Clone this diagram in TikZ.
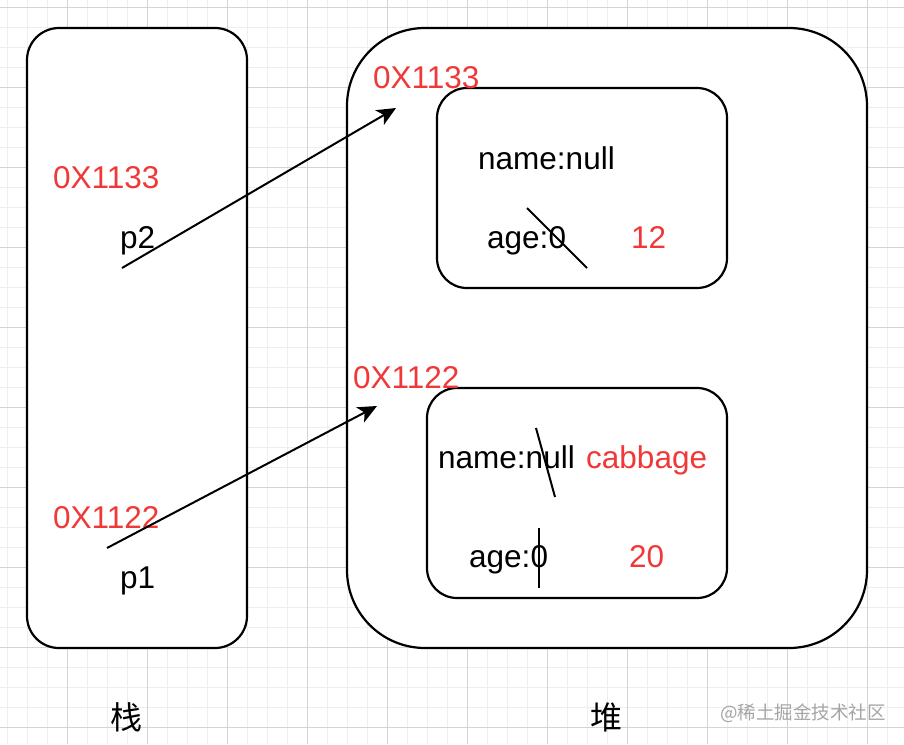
\documentclass[tikz,border=0pt]{standalone}
\usepackage{fontspec}
\setmainfont{Liberation Sans}
\newfontfamily\cjk{Noto Sans CJK SC}
\usetikzlibrary{arrows.meta}
\definecolor{redtxt}{RGB}{240,56,56}
\definecolor{gridminor}{RGB}{238,238,238}
\definecolor{gridmajor}{RGB}{212,212,212}
\definecolor{wmark}{RGB}{165,165,165}
\tikzset{
  box/.style={draw=black, line width=2.2pt},
  lbl/.style={anchor=base west, inner sep=0pt, font=\fontsize{31.5}{37}\selectfont, text=black},
  rlbl/.style={lbl, text=redtxt},
  cjklbl/.style={anchor=center, inner sep=0pt, font=\cjk\fontsize{32}{36}\selectfont},
  arr/.style={line width=2pt, -{Stealth[length=19pt,width=17pt,inset=5pt]}},
  strike/.style={line width=2pt}
}
\begin{document}
\begin{tikzpicture}[x=1pt,y=-1pt]
\useasboundingbox (0,0) rectangle (904,744);
\fill[white] (0,0) rectangle (904,744);
% grid
\foreach \g in {7,27,...,907} {
  \draw[gridminor, line width=0.9pt] (\g,0) -- (\g,744);
}
\foreach \g in {7,27,...,747} {
  \draw[gridminor, line width=0.9pt] (0,\g) -- (904,\g);
}
\foreach \g in {67,147,...,907} {
  \draw[gridmajor, line width=1pt] (\g,0) -- (\g,744);
}
\foreach \g in {7,87,...,747} {
  \draw[gridmajor, line width=1pt] (0,\g) -- (904,\g);
}
% containers
\draw[box, fill=white, rounded corners=32pt] (27,28) rectangle (247,648);
\node (stack) at (137,338) {};
\draw[box, fill=white, rounded corners=78pt] (347,28) rectangle (867,648);
\node (heap) at (607,338) {};
\draw[box, fill=white, rounded corners=30pt] (437,88) rectangle (727,288);
\node (obj1) at (582,188) {};
\draw[box, fill=white, rounded corners=30pt] (427,388) rectangle (727,598);
\node (obj2) at (577,493) {};
% stack texts
\node[rlbl] (a2) at (53,188) {0X1133};
\node[lbl] (p2) at (120,248) {p2};
\node[rlbl] (a1) at (53,528) {0X1122};
\node[lbl] (p1) at (120,588) {p1};
% heap address labels
\node[rlbl] (h2) at (373,88) {0X1133};
\node[rlbl] (h1) at (353,388) {0X1122};
% object 1
\node[lbl] (n1) at (478,169) {name:null};
\node[lbl] (g1) at (487,248) {age:0};
\node[rlbl] (v1) at (631,248) {12};
% object 2
\node[lbl] (n2) at (438,468) {name:null};
\node[rlbl] (c2) at (586,468) {cabbage};
\node[lbl] (g2) at (469,567) {age:0};
\node[rlbl] (v2) at (629,567) {20};
% bottom labels
\node[cjklbl] (zhan) at (126,717) {栈};
\node[cjklbl] (dui) at (606,717) {堆};
\node[anchor=center, inner sep=0pt, text=wmark, font=\cjk\fontsize{18.5}{22}\selectfont] (wm) at (803,713) {@稀土掘金技术社区};
% arrows
\coordinate (s2) at (122,268);
\coordinate (t2) at (396,108);
\coordinate (s1) at (107,548);
\coordinate (t1) at (377,406);
\draw[arr] (s2) -- (t2);
\draw[arr] (s1) -- (t1);
% strike lines
\coordinate (k1a) at (527,208);
\coordinate (k1b) at (587,268);
\draw[strike] (k1a) -- (k1b);
\coordinate (k2a) at (536,428);
\coordinate (k2b) at (555,497);
\draw[strike] (k2a) -- (k2b);
\coordinate (k3a) at (539,528);
\coordinate (k3b) at (539,588);
\draw[strike] (k3a) -- (k3b);
\end{tikzpicture}
\end{document}
